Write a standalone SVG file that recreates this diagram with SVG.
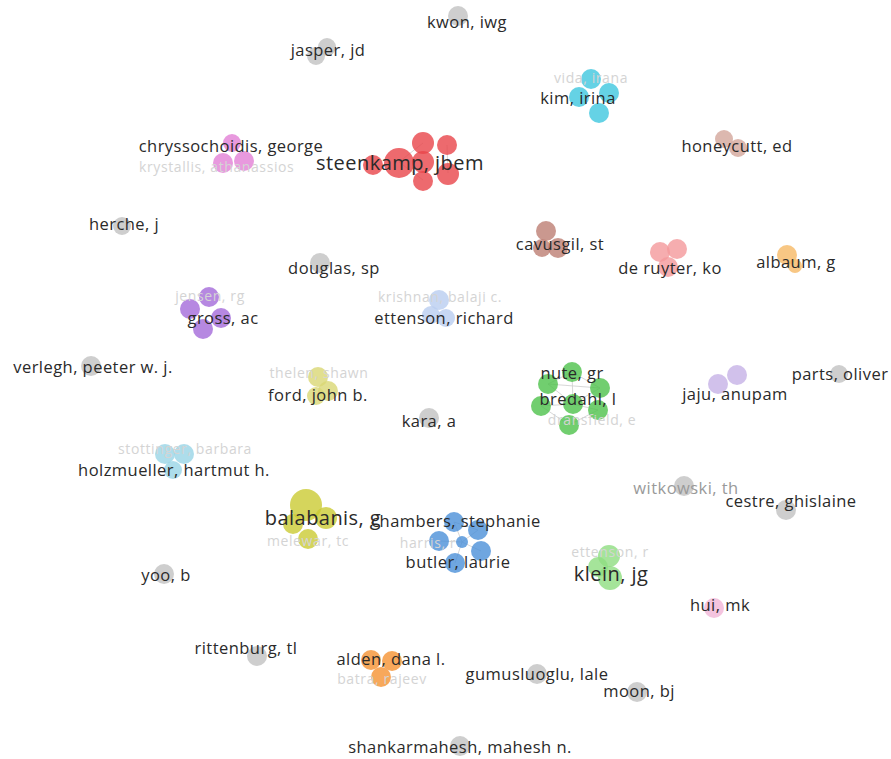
<svg xmlns="http://www.w3.org/2000/svg" width="891" height="759" viewBox="0 0 891 759">
<style>
text{font-family:"Open Sans","Noto Sans","Liberation Sans",sans-serif;font-size:16.5px;letter-spacing:.45px;fill:#2a2a2a;text-anchor:middle}
text.big{font-size:20px}
text.faint{fill:#d4d4d4;font-size:14px;letter-spacing:.6px}
text.mid{fill:#9a9a9a}
circle{stroke:none;opacity:.8}
.gray{fill:#c2c2c2}
.red{fill:#e8454a}
.pink{fill:#e27fd6}
.cyan{fill:#3ec7df}
.brl{fill:#d3a69b}
.brn{fill:#bd7e73}
.sal{fill:#f4999b}
.org{fill:#f6b965}
.pur{fill:#a46ad9}
.lbl{fill:#b9cdf0}
.yg{fill:#d9d774}
.grn{fill:#4dc24b}
.lav{fill:#c6b1e6}
.lcy{fill:#98d5e6}
.yel{fill:#cbcb33}
.blu{fill:#4b90d8}
.lgr{fill:#8fdd81}
.lpk{fill:#f1b5d7}
.aor{fill:#f59232}
.edges line{stroke:#cfcfcf;stroke-width:1;opacity:.8}
</style>
<rect width="891" height="759" fill="#fff"/>
<g class="edges" id="connectors">
<line x1="572" y1="372" x2="548" y2="384"/><line x1="572" y1="372" x2="600" y2="388"/><line x1="548" y1="384" x2="573" y2="404"/><line x1="600" y1="388" x2="573" y2="404"/><line x1="573" y1="404" x2="541" y2="406"/><line x1="573" y1="404" x2="598" y2="410"/><line x1="541" y1="406" x2="569" y2="425"/><line x1="598" y1="410" x2="569" y2="425"/><line x1="572" y1="372" x2="573" y2="404"/><line x1="548" y1="384" x2="600" y2="388"/>
<line x1="454" y1="522" x2="478" y2="530"/><line x1="454" y1="522" x2="462" y2="542"/><line x1="478" y1="530" x2="462" y2="542"/><line x1="439" y1="541" x2="462" y2="542"/><line x1="462" y1="542" x2="481" y2="551"/><line x1="462" y1="542" x2="455" y2="563"/>
<line x1="423" y1="143" x2="399" y2="162"/><line x1="447" y1="145" x2="448" y2="173"/><line x1="399" y1="162" x2="423" y2="180"/>
</g>
<g id="n-kwon"><circle class="gray" cx="458" cy="16" r="10"/><text x="467" y="28">kwon, iwg</text></g>
<g id="n-jasper"><circle class="gray" cx="327" cy="47" r="9"/><circle class="gray" cx="316" cy="56" r="9"/><text x="328" y="56">jasper, jd</text></g>
<g id="n-vida"><circle class="cyan" cx="591" cy="79" r="10"/><circle class="cyan" cx="609" cy="93" r="10"/><circle class="cyan" cx="579" cy="97" r="10"/><circle class="cyan" cx="599" cy="113" r="10"/><text class="faint" x="591" y="83">vida, irana</text><text x="578" y="104">kim, irina</text></g>
<g id="n-honeycutt"><circle class="brl" cx="724" cy="139" r="9"/><circle class="brl" cx="738" cy="148" r="9"/><text x="737" y="152">honeycutt, ed</text></g>
<g id="n-chryssochoidis"><circle class="pink" cx="232" cy="143" r="9"/><circle class="pink" cx="244" cy="161" r="10"/><circle class="pink" cx="223" cy="163" r="10"/><text x="231" y="152">chryssochoidis, george</text><text class="faint" x="139" y="172" style="text-anchor:start">krystallis, athanassios</text></g>
<g id="n-steenkamp"><circle class="red" cx="423" cy="143" r="11"/><circle class="red" cx="447" cy="145" r="10"/><circle class="red" cx="423" cy="162" r="11"/><circle class="red" cx="373" cy="165" r="10"/><circle class="red" cx="399" cy="163" r="15"/><circle class="red" cx="448" cy="174" r="11"/><circle class="red" cx="423" cy="181" r="10"/><text class="big" x="400" y="170">steenkamp, jbem</text></g>
<g id="n-herche"><circle class="gray" cx="122" cy="226" r="9"/><text x="124" y="230">herche, j</text></g>
<g id="n-cavusgil"><circle class="brn" cx="546" cy="231" r="10"/><circle class="brn" cx="558" cy="248" r="10"/><circle class="brn" cx="542" cy="248" r="9"/><text x="560" y="250">cavusgil, st</text></g>
<g id="n-deruyter"><circle class="sal" cx="660" cy="252" r="10"/><circle class="sal" cx="677" cy="249" r="10"/><circle class="sal" cx="668" cy="267" r="10"/><text x="670" y="274">de ruyter, ko</text></g>
<g id="n-albaum"><circle class="org" cx="787" cy="255" r="10"/><circle class="org" cx="795" cy="266" r="7"/><text x="796" y="268">albaum, g</text></g>
<g id="n-douglas"><circle class="gray" cx="320" cy="263" r="10"/><text x="334" y="274">douglas, sp</text></g>
<g id="n-gross"><circle class="pur" cx="209" cy="297" r="10"/><circle class="pur" cx="190" cy="309" r="10"/><circle class="pur" cx="221" cy="318" r="10"/><circle class="pur" cx="203" cy="329" r="10"/><text class="faint" x="210" y="301">jensen, rg</text><text x="223" y="324">gross, ac</text></g>
<g id="n-ettenson"><circle class="lbl" cx="439" cy="300" r="10"/><circle class="lbl" cx="431" cy="315" r="9"/><circle class="lbl" cx="446" cy="318" r="9"/><text class="faint" x="440" y="302">krishnan, balaji c.</text><text x="444" y="324">ettenson, richard</text></g>
<g id="n-verlegh"><circle class="gray" cx="91" cy="366" r="10"/><text x="93" y="373">verlegh, peeter w. j.</text></g>
<g id="n-ford"><circle class="yg" cx="318" cy="377" r="10"/><circle class="yg" cx="328" cy="391" r="10"/><circle class="yg" cx="316" cy="396" r="9"/><text class="faint" x="319" y="378">thelen, shawn</text><text x="318" y="401">ford, john b.</text></g>
<g id="n-kara"><circle class="gray" cx="429" cy="418" r="10"/><text x="429" y="427">kara, a</text></g>
<g id="n-nute"><circle class="grn" cx="572" cy="372" r="10"/><circle class="grn" cx="548" cy="384" r="10"/><circle class="grn" cx="600" cy="388" r="10"/><circle class="grn" cx="573" cy="404" r="10"/><circle class="grn" cx="541" cy="406" r="10"/><circle class="grn" cx="598" cy="410" r="10"/><circle class="grn" cx="569" cy="425" r="10"/><text x="572" y="379">nute, gr</text><text x="578" y="405">bredahl, l</text><text class="faint" x="592" y="425">dransfield, e</text></g>
<g id="n-jaju"><circle class="lav" cx="718" cy="384" r="10"/><circle class="lav" cx="737" cy="375" r="10"/><text x="735" y="400">jaju, anupam</text></g>
<g id="n-parts"><circle class="gray" cx="839" cy="374" r="9"/><text x="840" y="380">parts, oliver</text></g>
<g id="n-holzmueller"><circle class="lcy" cx="165" cy="454" r="10"/><circle class="lcy" cx="184" cy="454" r="10"/><circle class="lcy" cx="173" cy="470" r="9"/><text class="faint" x="185" y="454">stottinger, barbara</text><text x="174" y="476">holzmueller, hartmut h.</text></g>
<g id="n-witkowski"><circle class="gray" cx="684" cy="486" r="10"/><text class="mid" x="686" y="494">witkowski, th</text></g>
<g id="n-cestre"><circle class="gray" cx="786" cy="510" r="10"/><text x="791" y="507">cestre, ghislaine</text></g>
<g id="n-balabanis"><circle class="yel" cx="306" cy="505" r="16"/><circle class="yel" cx="326" cy="518" r="11"/><circle class="yel" cx="293" cy="524" r="10"/><circle class="yel" cx="308" cy="539" r="10"/><text class="faint" x="308" y="546">melewar, tc</text><text class="big" x="323" y="525">balabanis, g</text></g>
<g id="n-chambers"><circle class="blu" cx="454" cy="522" r="10"/><circle class="blu" cx="478" cy="530" r="10"/><circle class="blu" cx="439" cy="541" r="10"/><circle class="blu" cx="462" cy="542" r="6"/><circle class="blu" cx="481" cy="551" r="10"/><circle class="blu" cx="455" cy="563" r="10"/><text x="456" y="527">chambers, stephanie</text><text class="faint" x="428" y="548">harris, r</text><text x="458" y="568">butler, laurie</text></g>
<g id="n-yoo"><circle class="gray" cx="164" cy="574" r="10"/><text x="166" y="581">yoo, b</text></g>
<g id="n-klein"><circle class="lgr" cx="609" cy="556" r="11"/><circle class="lgr" cx="598" cy="567" r="10"/><circle class="lgr" cx="610" cy="578" r="12"/><text class="faint" x="610" y="557">ettenson, r</text><text class="big" x="611" y="581">klein, jg</text></g>
<g id="n-hui"><circle class="lpk" cx="714" cy="608" r="10"/><text x="720" y="611">hui, mk</text></g>
<g id="n-rittenburg"><circle class="gray" cx="257" cy="656" r="10"/><text x="246" y="654">rittenburg, tl</text></g>
<g id="n-alden"><circle class="aor" cx="371" cy="660" r="10"/><circle class="aor" cx="392" cy="661" r="10"/><circle class="aor" cx="381" cy="677" r="10"/><text x="391" y="665">alden, dana l.</text><text class="faint" x="382" y="684">batra, rajeev</text></g>
<g id="n-gumusluoglu"><circle class="gray" cx="537" cy="674" r="10"/><text x="537" y="680">gumusluoglu, lale</text></g>
<g id="n-moon"><circle class="gray" cx="637" cy="692" r="10"/><text x="639" y="697">moon, bj</text></g>
<g id="n-shankarmahesh"><circle class="gray" cx="460" cy="746" r="10"/><text x="460" y="753">shankarmahesh, mahesh n.</text></g>
</svg>
